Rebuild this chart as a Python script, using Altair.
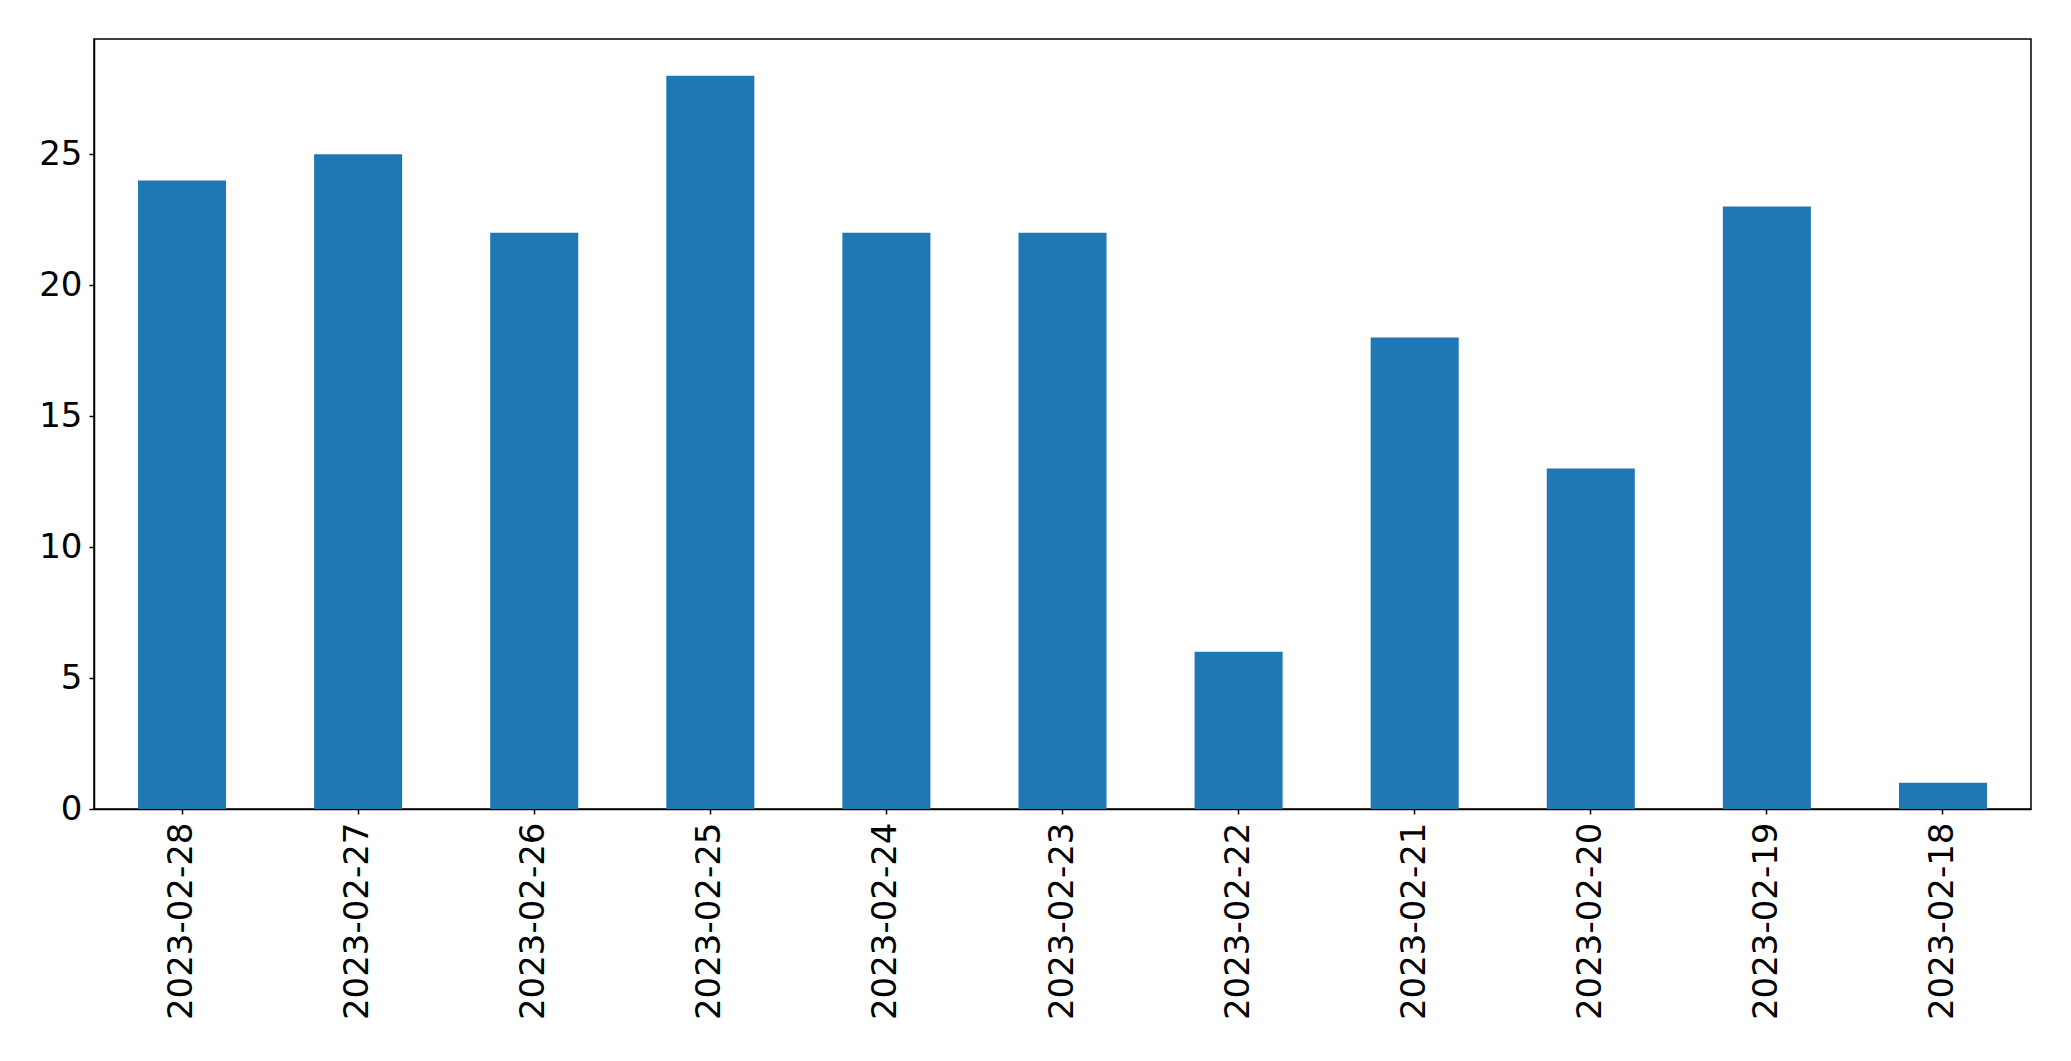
import altair as alt
import pandas as pd

dates = ["2023-02-28", "2023-02-27", "2023-02-26", "2023-02-25", "2023-02-24",
         "2023-02-23", "2023-02-22", "2023-02-21", "2023-02-20", "2023-02-19",
         "2023-02-18"]
counts = [24, 25, 22, 28, 22, 22, 6, 18, 13, 23, 1]
y_ticks = [0, 5, 10, 15, 20, 25]

df = pd.DataFrame({"date": dates, "count": counts})

chart = alt.Chart(df).mark_bar(color="#1f77b4").encode(
    x=alt.X("date:N", sort=dates, title=None,
            scale=alt.Scale(paddingInner=0.5, paddingOuter=0.25),
            axis=alt.Axis(labelAngle=270, labelFontSize=34, labelFont="DejaVu Sans",
                          labelColor="black", tickColor="black", tickSize=5,
                          tickWidth=1.5, domainColor="black", domainWidth=1.5,
                          labelPadding=8, labelBaseline="middle", labelAlign="right",
                          labelLimit=0)),
    y=alt.Y("count:Q", title=None,
            scale=alt.Scale(domain=[0, 29.4], nice=False, zero=True),
            axis=alt.Axis(values=y_ticks, labelFontSize=34, labelFont="DejaVu Sans",
                          labelColor="black", tickColor="black", tickSize=5,
                          tickWidth=1.5, domainColor="black", domainWidth=1.5,
                          labelPadding=7, grid=False)),
).properties(
    width=1937, height=770,
    autosize=alt.AutoSizeParams(type="none"),
    padding={"left": 86, "top": 31, "right": 30, "bottom": 236},
    background="white",
).configure_view(stroke="black", strokeWidth=1.5)

chart.save("out.html", embed_options={"renderer": "svg", "actions": False})
